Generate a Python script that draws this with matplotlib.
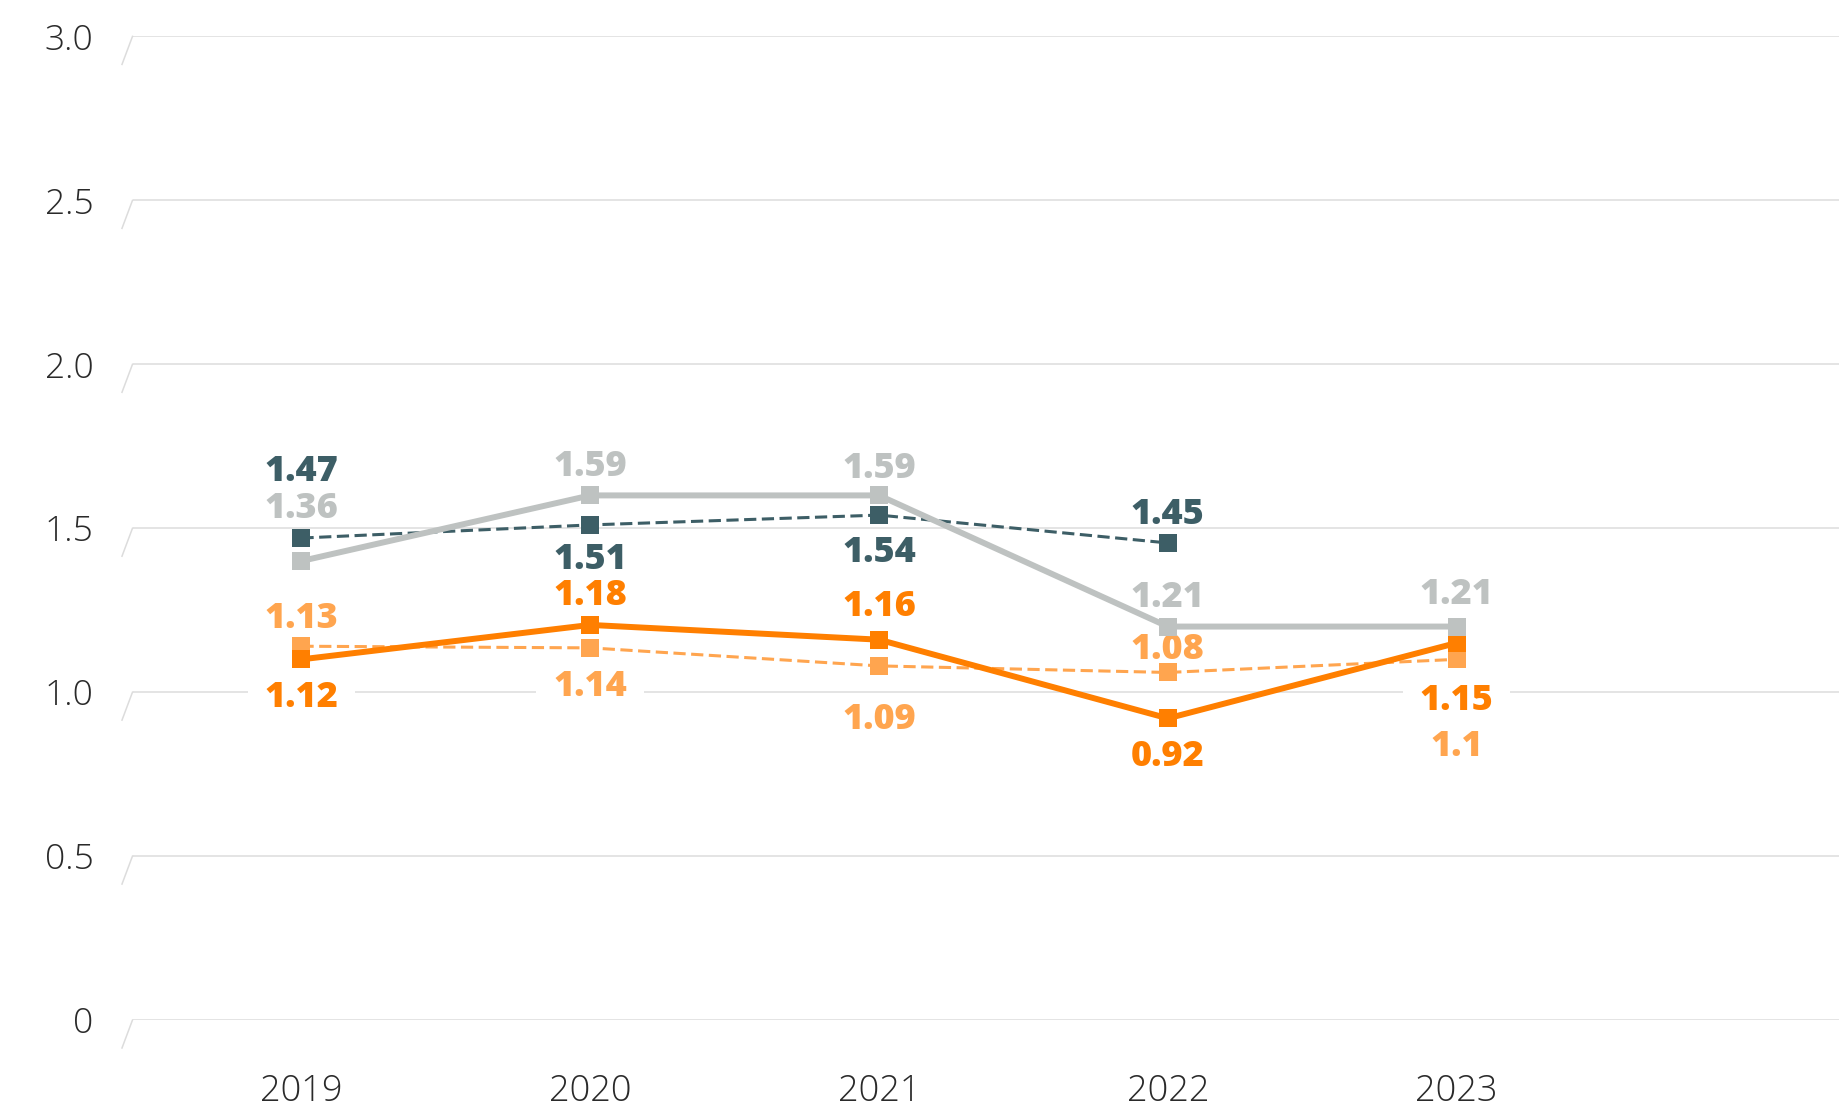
import numpy as np
import matplotlib
matplotlib.use("Agg")
import matplotlib.pyplot as plt
from matplotlib.path import Path

# === DATA ===
years = ["2019", "2020", "2021", "2022", "2023"]

teal_vals = [1.47, 1.51, 1.54, 1.455]
teal_labels = ["1.47", "1.51", "1.54", "1.45"]

gray_vals = [1.40, 1.60, 1.60, 1.20, 1.20]
gray_labels = ["1.36", "1.59", "1.59", "1.21", "1.21"]

orange_vals = [1.10, 1.205, 1.16, 0.92, 1.15]
orange_labels = ["1.12", "1.18", "1.16", "0.92", "1.15"]

lorange_vals = [1.14, 1.135, 1.08, 1.06, 1.10]
lorange_labels = ["1.13", "1.14", "1.09", "1.08", "1.1"]

y_ticks = [0, 0.5, 1.0, 1.5, 2.0, 2.5, 3.0]
y_ticklabels = ["0", "0.5", "1.0", "1.5", "2.0", "2.5", "3.0"]

# === STYLE ===
TEAL = "#3d5e66"
GRAY = "#bec2c1"
ORANGE = "#ff7f00"
LORANGE = "#ffa54f"
GRID = "#dcdcdc"
FONT = ["Open Sans", "DejaVu Sans"]
PX = 72 / 100  # pixels -> points at dpi 100

# label offsets in pixels (positive = below the marker)
teal_off = [-71, 31, 33, -32]
gray_off = [-56, -33, -31, -33, -36]
orange_off = [34, -33, -37, 34, 54]
lorange_off = [-32, 35, 50, -27, 83]

plt.rcParams["font.family"] = FONT

fig = plt.figure(figsize=(18.39, 11.08), dpi=100)
ax = fig.add_axes([132.5 / 1839, 88 / 1108, 1 - 132.5 / 1839, (1020 - 36.4) / 1108])

XMIN, XMAX = -0.585, 5.324
ax.set_xlim(XMIN, XMAX)
ax.set_ylim(0, 3.0)

for s in ax.spines.values():
    s.set_visible(False)

ax.set_yticks(y_ticks)
ax.set_yticklabels(y_ticklabels)
ax.set_xticks(range(len(years)))
ax.set_xticklabels(years)
ax.tick_params(axis="y", length=0, pad=28, labelsize=25.5, labelcolor="#2a2a2a")
ax.tick_params(axis="x", length=0, pad=38.5, labelsize=26, labelcolor="#2a2a2a")
for t in ax.get_yticklabels() + ax.get_xticklabels():
    t.set_fontweight("light")

ax.yaxis.grid(True, color=GRID, lw=1.1, zorder=0.5)
ax.set_axisbelow(True)

# slanted little ticks at the left end of each gridline
dx = 10.5 / 1706.5 * (XMAX - XMIN)
dy = 28 / 983.6 * 3.0
for v in y_ticks:
    ax.plot([XMIN - dx, XMIN], [v - dy, v], color=GRID, lw=1.1, clip_on=False, zorder=0.5)


def wide_box(x0, y0, width, height, mutation_size):
    # white box, wide horizontally, tight vertically around the digits
    padx = 0.47 * mutation_size
    bottom = y0 + 0.22 * mutation_size
    top = y0 + height
    left = x0 - padx
    right = x0 + width + padx
    return Path([(left, bottom), (right, bottom), (right, top), (left, top), (left, bottom)],
                closed=True)


def draw_series(vals, labels, offsets, color, lw, dashed, z):
    x = np.arange(len(vals))
    line, = ax.plot(x, vals, color=color, lw=lw, marker="s", markersize=12.5,
                    markeredgewidth=0, zorder=z, clip_on=False,
                    solid_joinstyle="miter")
    if dashed:
        line.set_linestyle((0, (4, 1.8)))
    for xi, v, lab, off in zip(x, vals, labels, offsets):
        ax.annotate(lab, (xi, v), xytext=(0, -off * PX), textcoords="offset points",
                    ha="center", va="center_baseline", fontsize=26, fontweight=800,
                    color=color, zorder=2,
                    bbox=dict(boxstyle=wide_box, fc="white", ec="none"))


draw_series(lorange_vals, lorange_labels, lorange_off, LORANGE, 2.2, True, 3.0)
draw_series(teal_vals, teal_labels, teal_off, TEAL, 2.2, True, 3.1)
draw_series(orange_vals, orange_labels, orange_off, ORANGE, 4.3, False, 3.2)
draw_series(gray_vals, gray_labels, gray_off, GRAY, 4.3, False, 3.3)

fig.savefig("out.png", dpi=100)
